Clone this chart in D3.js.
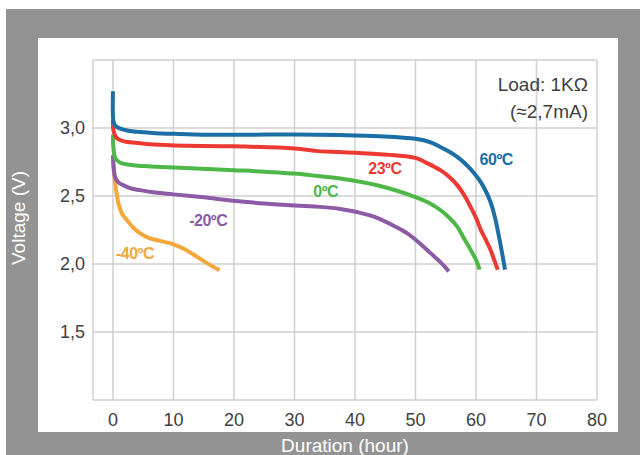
<!DOCTYPE html>
<html>
<head>
<meta charset="utf-8">
<script src="https://cdn.jsdelivr.net/npm/d3@7"></script>
<style>
  body { margin: 0; background: #fff; }
  svg { display: block; font-family: "Liberation Sans", Arial, sans-serif; }
</style>
</head>
<body>
<div id="chart"></div>
<script>
// Discharge curves (hours, volts)
const hours60 = [0, 0.05, 0.3, 1.2, 2.5, 4.5, 7, 10, 15, 20, 30, 37.6, 44, 50, 52.5, 54.1, 55.6, 56.9, 58.4, 59.7, 60.9, 61.9, 62.6, 63.2, 63.6, 64.0, 64.4, 64.8];
const volts60 = [3.27, 3.06, 3.02, 2.995, 2.98, 2.97, 2.962, 2.957, 2.95, 2.95, 2.952, 2.948, 2.94, 2.921, 2.895, 2.86, 2.825, 2.787, 2.73, 2.668, 2.595, 2.51, 2.43, 2.33, 2.245, 2.155, 2.06, 1.958];

const hours23 = [0, 0.05, 0.3, 0.8, 2, 3.4, 6, 10, 20, 30, 34, 37.5, 43, 50, 52, 54.1, 55.6, 56.9, 58, 59.1, 60, 60.8, 61.6, 62.4, 63, 63.6];
const volts23 = [3.06, 2.99, 2.95, 2.92, 2.9, 2.893, 2.88, 2.872, 2.865, 2.85, 2.83, 2.823, 2.81, 2.78, 2.74, 2.69, 2.64, 2.58, 2.51, 2.42, 2.34, 2.25, 2.18, 2.105, 2.03, 1.958];

const hours0 = [0, 0.1, 0.4, 1.2, 3.4, 6, 10, 20, 30, 34.2, 37.6, 44, 50.1, 52.2, 54.1, 55.6, 56.9, 58, 59.1, 60, 60.6];
const volts0 = [2.95, 2.84, 2.775, 2.745, 2.726, 2.718, 2.709, 2.69, 2.665, 2.645, 2.629, 2.575, 2.49, 2.45, 2.397, 2.34, 2.275, 2.19, 2.105, 2.03, 1.958];

const hoursM20 = [0, 0.1, 0.35, 0.9, 1.7, 3, 4.5, 7, 10, 15, 19.9, 25, 30, 34.2, 37.6, 40.5, 43.1, 46, 48.6, 50.5, 52.5, 54.2, 55.5];
const voltsM20 = [2.8, 2.72, 2.64, 2.6, 2.58, 2.555, 2.543, 2.525, 2.512, 2.49, 2.465, 2.445, 2.43, 2.42, 2.405, 2.38, 2.348, 2.29, 2.227, 2.16, 2.08, 2.01, 1.946];

const hoursM40 = [0, 0.15, 0.35, 0.6, 0.9, 1.5, 2.3, 3.3, 4.5, 6, 7.8, 10, 11.8, 13.3, 15.4, 17.6];
const voltsM40 = [2.76, 2.68, 2.6, 2.52, 2.446, 2.37, 2.324, 2.27, 2.225, 2.19, 2.17, 2.145, 2.11, 2.07, 2.01, 1.955];

const seriesNames = ["-40ºC", "-20ºC", "0ºC", "23ºC", "60ºC"];
const xTicks = [0, 10, 20, 30, 40, 50, 60, 70, 80];
const yTicks = [1.5, 2.0, 2.5, 3.0];
const yTickLabels = ["1,5", "2,0", "2,5", "3,0"];

const W = 640, H = 455;
const plot = { left: 93, right: 597, top: 60, bottom: 400 };

const svg = d3.select("#chart").append("svg")
  .attr("width", W)
  .attr("height", H);

// gray frame and white panel
svg.append("rect").attr("x", 6).attr("y", 9).attr("width", W - 6).attr("height", H - 9).attr("fill", "#939393");
svg.append("rect").attr("x", 38).attr("y", 38).attr("width", 580).attr("height", 394).attr("fill", "#fff");

const x = d3.scaleLinear().domain([-3.3, 80]).range([plot.left, plot.right]);
const y = d3.scaleLinear().domain([1.0, 3.5]).range([plot.bottom, plot.top]);

const grid = svg.append("g").attr("stroke", "#d0d0d0").attr("stroke-width", 1.5);

grid.selectAll(".vline").data(xTicks).enter().append("line")
  .attr("x1", d => x(d)).attr("x2", d => x(d))
  .attr("y1", plot.top).attr("y2", plot.bottom);

grid.selectAll(".hline").data(yTicks.concat([3.5])).enter().append("line")
  .attr("x1", plot.left).attr("x2", plot.right)
  .attr("y1", d => y(d)).attr("y2", d => y(d));

// left and bottom axis lines
grid.append("line").attr("x1", plot.left).attr("x2", plot.left).attr("y1", plot.top).attr("y2", plot.bottom);
grid.append("line").attr("x1", plot.left).attr("x2", plot.right).attr("y1", plot.bottom).attr("y2", plot.bottom);

// tick labels
svg.append("g").selectAll("text").data(xTicks).enter().append("text")
  .attr("x", d => x(d))
  .attr("y", 426)
  .attr("text-anchor", "middle")
  .attr("font-size", 18)
  .attr("fill", "#404040")
  .text(d => d);

svg.append("g").selectAll("text").data(yTicks).enter().append("text")
  .attr("x", 85)
  .attr("y", d => y(d))
  .attr("dy", "0.35em")
  .attr("text-anchor", "end")
  .attr("font-size", 18)
  .attr("fill", "#404040")
  .text((d, i) => yTickLabels[i]);

// axis titles on the gray frame
svg.append("text")
  .attr("transform", "rotate(-90)")
  .attr("x", -218)
  .attr("y", 25)
  .attr("text-anchor", "middle")
  .attr("font-size", 19)
  .attr("fill", "#fff")
  .text("Voltage (V)");

svg.append("text")
  .attr("x", 345)
  .attr("y", 452)
  .attr("text-anchor", "middle")
  .attr("font-size", 19)
  .attr("fill", "#fff")
  .text("Duration (hour)");

// load note, top right
svg.append("text")
  .attr("x", 588).attr("y", 91)
  .attr("text-anchor", "end")
  .attr("font-size", 19)
  .attr("fill", "#404040")
  .text("Load: 1KΩ");
svg.append("text")
  .attr("x", 588).attr("y", 118)
  .attr("text-anchor", "end")
  .attr("font-size", 19)
  .attr("fill", "#404040")
  .text("(≈2,7mA)");

const colors = ["#f3a83c", "#8d5ba6", "#4db848", "#ec3a33", "#1b6ea6"];
const hoursAll = [hoursM40, hoursM20, hours0, hours23, hours60];
const voltsAll = [voltsM40, voltsM20, volts0, volts23, volts60];

const line = d3.line()
  .x(d => x(d[0]))
  .y(d => y(d[1]))
  .curve(d3.curveCatmullRom.alpha(0.5));

seriesNames.forEach((name, i) => {
  const pts = hoursAll[i].map((h, j) => [h, voltsAll[i][j]]);
  svg.append("path")
    .datum(pts)
    .attr("fill", "none")
    .attr("stroke", colors[i])
    .attr("stroke-width", 4)
    .attr("d", line);
});

// curve labels, anchored in data units
const labelAt = [[0.5, 2.037], [12.6, 2.282], [33.1, 2.492], [42.2, 2.66], [60.6, 2.726]];
seriesNames.forEach((name, i) => {
  svg.append("text")
    .attr("x", x(labelAt[i][0]))
    .attr("y", y(labelAt[i][1]))
    .attr("font-size", 16)
    .attr("font-weight", "bold")
    .attr("letter-spacing", "-0.5px")
    .attr("fill", colors[i])
    .text(name);
});
</script>
</body>
</html>
